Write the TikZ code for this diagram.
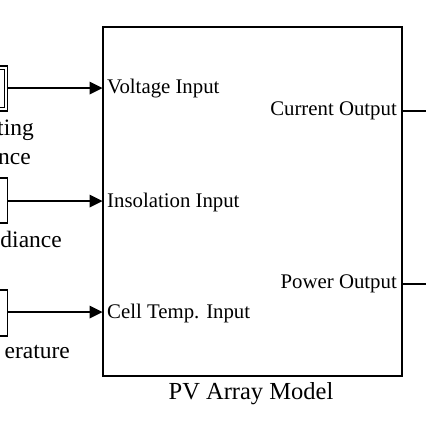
\documentclass[tikz,border=0pt]{standalone}
\usepackage{fontspec}
\setmainfont{Liberation Serif}
\begin{document}
\begin{tikzpicture}[x=1pt,y=1pt,
  blk/.style={draw, line width=1.3pt},
  conn/.style={line width=1.1pt, shorten >=11pt},
  head/.style={fill=black},
  outl/.style={line width=1.1pt},
  port/.style={inner sep=0pt, font=\fontsize{20.8}{24}\selectfont},
  lbl/.style={inner sep=0pt, font=\fontsize{23.5}{28}\selectfont},
  ttl/.style={inner sep=0pt, font=\fontsize{24.5}{29}\selectfont}]
\useasboundingbox (0,-426) rectangle (426,0);
\begin{scope}
\clip (0,-426) rectangle (426,0);
% main block
\draw[blk] (103,-27) rectangle (402,-376);
\coordinate (mainW1) at (102.5,-88);
\coordinate (mainW2) at (102.5,-201);
\coordinate (mainW3) at (102.5,-312);
\coordinate (mainE1) at (402,-111);
\coordinate (mainE2) at (402,-284);
\coordinate (out1) at (430,-111);
\coordinate (out2) at (430,-284);
% source blocks
\draw[blk] (-30,-66) rectangle (7.5,-111);
\draw[line width=1pt] (-30,-69.5) rectangle (4,-107.5);
\draw[blk] (-30,-178) rectangle (7.5,-223);
\draw[blk] (-30,-290) rectangle (7.5,-336);
\coordinate (s1) at (7.5,-88);
\coordinate (s2) at (7.5,-201);
\coordinate (s3) at (7.5,-312);
% connectors
\draw[conn] (s1) -- (mainW1);
\draw[conn] (s2) -- (mainW2);
\draw[conn] (s3) -- (mainW3);
\fill[head] (mainW1) -- ++(-13,6.5) -- ++(0,-13) -- cycle;
\fill[head] (mainW2) -- ++(-13,6.5) -- ++(0,-13) -- cycle;
\fill[head] (mainW3) -- ++(-13,6.5) -- ++(0,-13) -- cycle;
\draw[outl] (mainE1) -- (out1);
\draw[outl] (mainE2) -- (out2);
% port labels
\node[port, anchor=west] (pv) at (107,-89) {Voltage Input};
\node[port, anchor=west] (pi) at (107,-202) {Insolation Input};
\node[port, anchor=west] (pc) at (107,-313) {Cell Temp. Input};
\node[port, anchor=east] (pco) at (397,-111) {Current Output};
\node[port, anchor=east] (ppo) at (397,-284) {Power Output};
% title
\node[ttl, anchor=base] (title) at (251,-399) {PV Array Model};
% source labels
\node[lbl, anchor=base east] (l1a) at (34,-135) {ting};
\node[lbl, anchor=base east] (l1b) at (31,-164) {nce};
\node[lbl, anchor=base east] (l2) at (62,-247) {diance};
\node[lbl, anchor=base east] (l3) at (70,-358) {erature};
\end{scope}
\end{tikzpicture}
\end{document}
